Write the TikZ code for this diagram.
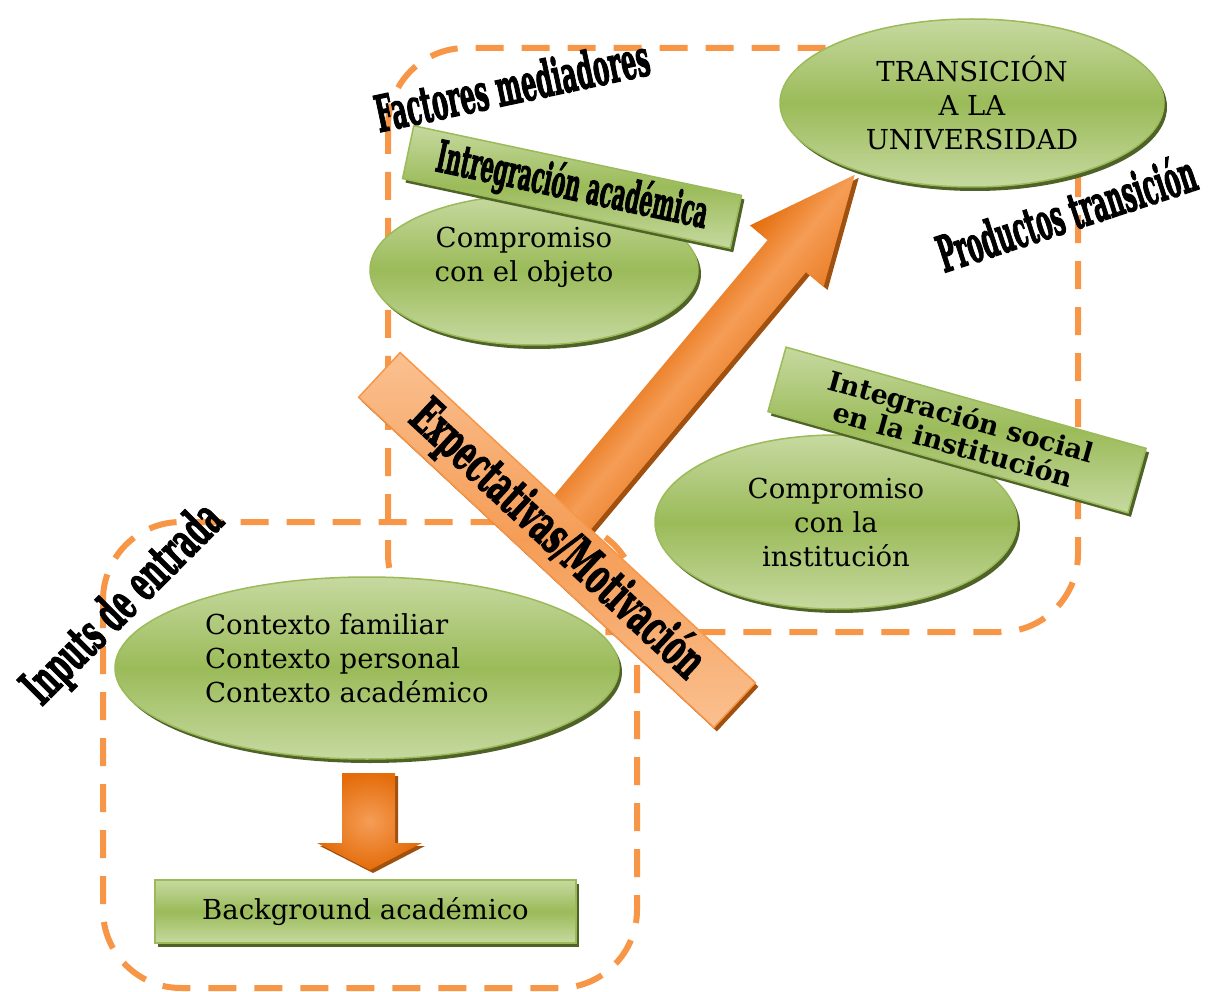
\documentclass[tikz,border=0pt]{standalone}
\usepackage{fontspec}
\setmainfont{DejaVu Serif}
\newfontfamily\hdf{DejaVu Serif}[BoldFeatures={FakeBold=3}]
\usetikzlibrary{shapes.geometric,shadows}
\definecolor{gL}{HTML}{C6D9A0}
\definecolor{gM}{HTML}{9BBB59}
\definecolor{gB}{HTML}{9BBB59}
\definecolor{gS}{HTML}{4F6228}
\definecolor{dashC}{HTML}{F79646}
\definecolor{oL}{HTML}{FAC090}
\definecolor{oM}{HTML}{F79646}
\definecolor{oA}{HTML}{E46C0A}
\definecolor{oP}{HTML}{F59D56}
\definecolor{oS}{HTML}{A0500F}
\newcommand\cond[3]{\scalebox{#1}[1]{\fontsize{#2}{#2}\selectfont\hdf\bfseries #3}}
\newcommand\bigarrowpath{(0,-25) -- (342.6,-25) -- (342.6,-48) -- (448.6,0) -- (342.6,48) -- (342.6,25) -- (0,25) -- cycle}
\newcommand\downarrowpath{(342,773) -- (395,773) -- (395,843) -- (422,843) -- (370,870) -- (317,843) -- (342,843) -- cycle}
\begin{document}
\begin{tikzpicture}[x=1pt,y=-1pt,
  dashbox/.style={draw=dashC, line width=6pt, dash pattern=on 28pt off 18pt, rounded corners=78pt},
  gshape/.style={draw=gB, line width=1.5pt, top color=gL, bottom color=gL, middle color=gM, inner sep=0pt,
     general shadow={fill=gS, shadow xshift=3pt, shadow yshift=-4pt}},
  gell/.style={gshape, ellipse},
  grect/.style={gshape, rectangle},
  body/.style={font=\fontsize{27.5}{34}\selectfont, text=black, inner sep=0pt},
  hd/.style={text=black, inner sep=0pt},
]
\useasboundingbox (0,0) rectangle (1211,992);
% dashed group frames
\draw[dashbox] (388,48) rectangle (1078,632);
\draw[dashbox] (103,522) rectangle (637,988);
% ellipses
\node[gell, minimum width=384pt, minimum height=168pt] (trans) at (972,103) {};
\node[body, align=center] (transT) at (trans.center) {TRANSICIÓN\\A LA\\UNIVERSIDAD};
\node[gell, minimum width=328pt, minimum height=150pt] (obj) at (534,270) {};
\node[body, align=center] (objT) at (524,257) {Compromiso\\con el objeto};
\node[gell, minimum width=362pt, minimum height=174pt] (inst) at (836,522) {};
\node[body, align=center] (instT) at (836,522) {Compromiso\\con la\\institución};
\node[gell, minimum width=504pt, minimum height=182pt] (ctx) at (367,668) {};
\node[body, align=left, anchor=west] (ctxT) at (205,658) {Contexto familiar\\Contexto personal\\Contexto académico};
% rectangles
\node[grect, minimum width=421pt, minimum height=63pt, font=\fontsize{27.5}{34}\selectfont] (bg) at (365.5,911.5) {Background académico};
\node[grect, rotate=-12, minimum width=335pt, minimum height=54pt] (ia) at (572,187) {\cond{0.47}{44}{Intregración académica}};
\node[grect, rotate=-15.7, minimum width=374pt, minimum height=67pt, align=center, font=\fontsize{27}{29}\selectfont\bfseries] (is) at (957,430) {Integración social\\en la institución};
% big block arrow (from the bar towards the transition ellipse)
\begin{scope}[transform canvas={shift={(571,522)}, rotate=50.1}]
  \fill[oS] \bigarrowpath;
\end{scope}
\begin{scope}[transform canvas={shift={(567,519)}, rotate=50.1}]
  \shade[top color=oA, bottom color=oA!60!oP, middle color=oP] \bigarrowpath;
\end{scope}
% small block arrow
\begin{scope}[shift={(3,3)}]
  \fill[oS] \downarrowpath;
\end{scope}
\shade[inner color=oP, outer color=oA] \downarrowpath;
% bar
\node[rotate=-42.9, minimum width=485pt, minimum height=61pt, inner sep=0pt, draw=oM, line width=1.5pt,
  top color=oL, bottom color=oL, middle color=oP,
  general shadow={fill=oS, shadow xshift=3pt, shadow yshift=-4pt}] (bar) at (557,540)
  {\cond{0.56}{50}{Expectativas/Motivación}};
% headings
\node[hd, rotate=12] (fm) at (512,85) {\cond{0.48}{50}{Factores mediadores}};
\node[hd, rotate=18.2] (pt) at (1066,212) {\cond{0.46}{50}{Productos transición}};
\node[hd, rotate=45] (ie) at (124,605) {\cond{0.52}{50}{Inputs de entrada}};
\end{tikzpicture}
\end{document}
